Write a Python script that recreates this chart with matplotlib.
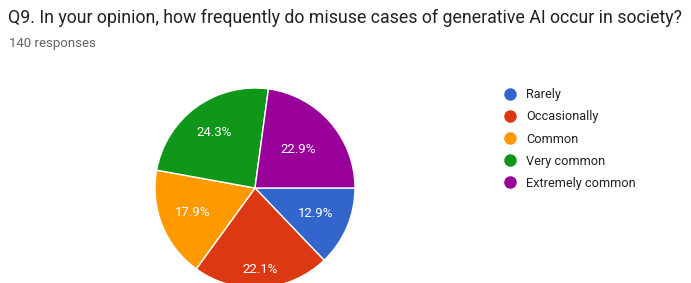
import matplotlib.pyplot as plt
from matplotlib.lines import Line2D

plt.rcParams['font.family'] = ['Roboto', 'DejaVu Sans']

title = "Q9. In your opinion, how frequently do misuse cases of generative AI occur in society?"
subtitle = "140 responses"
labels = ["Rarely", "Occasionally", "Common", "Very common", "Extremely common"]
counts = [18, 31, 25, 34, 32]
colors = ["#3366cc", "#dc3912", "#ff9900", "#109618", "#990099"]

# label distance from centre, per slice (as drawn by google forms)
label_dist = [0.66, 0.82, 0.67, 0.69, 0.58]

fig = plt.figure(figsize=(6.91, 2.83), dpi=100)
fig.text(8 / 691, 1 - 18 / 283, title, fontsize=12.8, color="#202124", va="center", ha="left")
fig.text(9 / 691, 1 - 44 / 283, subtitle, fontsize=9.5, color="#5f6368", va="center", ha="left")

#pie##########################################
ax = fig.add_axes([155 / 691, -5 / 283, 200 / 691, 200 / 283])
wedges, texts, autotexts = ax.pie(
    counts, colors=colors, startangle=0, counterclock=False,
    autopct="%.1f%%", pctdistance=0.65,
    wedgeprops=dict(edgecolor="white", linewidth=1),
    textprops=dict(color="white", fontsize=9.5),
)
for t, d in zip(autotexts, label_dist):
    x, y = t.get_position()
    r = (x ** 2 + y ** 2) ** 0.5
    t.set_position((x / r * d, y / r * d))
ax.set_xlim(-1.0, 1.0)
ax.set_ylim(-1.0, 1.0)
ax.set_aspect("equal")

#legend#######################################
handles = [Line2D([], [], marker="o", linestyle="", markersize=8,
                  markerfacecolor=c, markeredgecolor=c) for c in colors]
fig.legend(handles, labels, loc="upper left", bbox_to_anchor=(497 / 691, 1 - 83 / 283),
           frameon=False, fontsize=9.2, labelspacing=0.72, handletextpad=0.62,
           handlelength=1.25, borderaxespad=0, labelcolor="#222222")

fig.savefig("out.png", dpi=100)
